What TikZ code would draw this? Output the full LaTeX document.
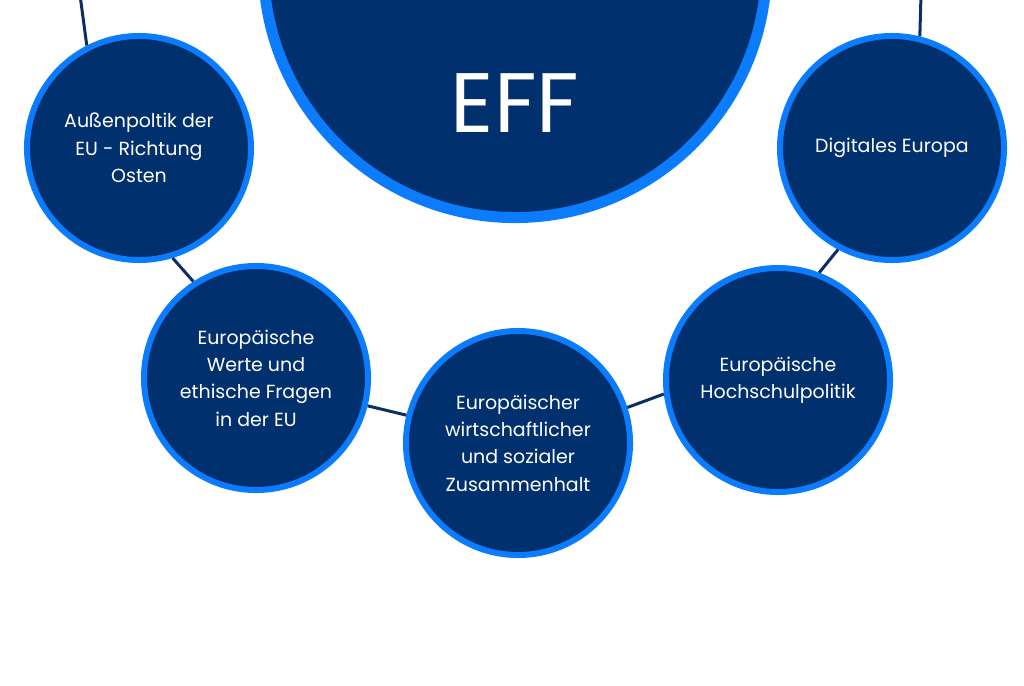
\documentclass[tikz,border=0pt]{standalone}
\usepackage{fontspec}
\setmainfont{Poppins}
\usepackage{tikz}
\usetikzlibrary{positioning}
\definecolor{navy}{RGB}{0,48,110}
\definecolor{rim}{RGB}{12,124,255}
\definecolor{link}{RGB}{11,47,99}

\begin{document}
\begin{tikzpicture}[
  x=0.025cm, y=-0.025cm,
  topic/.style={circle, draw=rim, fill=navy, line width=0.15cm, minimum size=5.6cm, inner sep=0pt,
    text=white, align=center, font=\fontsize{13.5}{19.5}\selectfont},
  hub/.style={circle, draw=rim, fill=navy, line width=0.275cm, minimum size=12.575cm, inner sep=0pt},
  lnk/.style={draw=link, line width=0.075cm}
]
  \useasboundingbox[fill=white] (0,0) rectangle (1024,685);
  % big circle on top
  \node[hub] (hub) at (515,-34) {};
  \node[text=white, font=\fontsize{60}{60}\selectfont] (eff) at (515,103) {EFF};

  % topics
  \node[topic] (ost) at (139,148) {Außenpoltik der\\EU - Richtung\\Osten};
  \node[topic] (digital) at (892,148) {Digitales Europa};
  \node[topic] (werte) at (256,378) {Europäische\\Werte und\\ethische Fragen\\in der EU};
  \node[topic] (halt) at (518,443) {Europäischer\\wirtschaftlicher\\und sozialer\\Zusammenhalt};
  \node[topic] (hoch) at (778,380) {Europäische\\Hochschulpolitik};

  \coordinate (endl) at (80,-5);
  \coordinate (endr) at (921,-5);

  % links along the ring
  \draw[lnk] (endl) -- (ost.117);
  \draw[lnk] (ost.-73) -- (werte.123);
  \draw[lnk] (werte.-14) -- (halt.166);
  \draw[lnk] (halt.18) -- (hoch.-173);
  \draw[lnk] (hoch.69) -- (digital.-118);
  \draw[lnk] (digital.76) -- (endr);
\end{tikzpicture}
\end{document}
